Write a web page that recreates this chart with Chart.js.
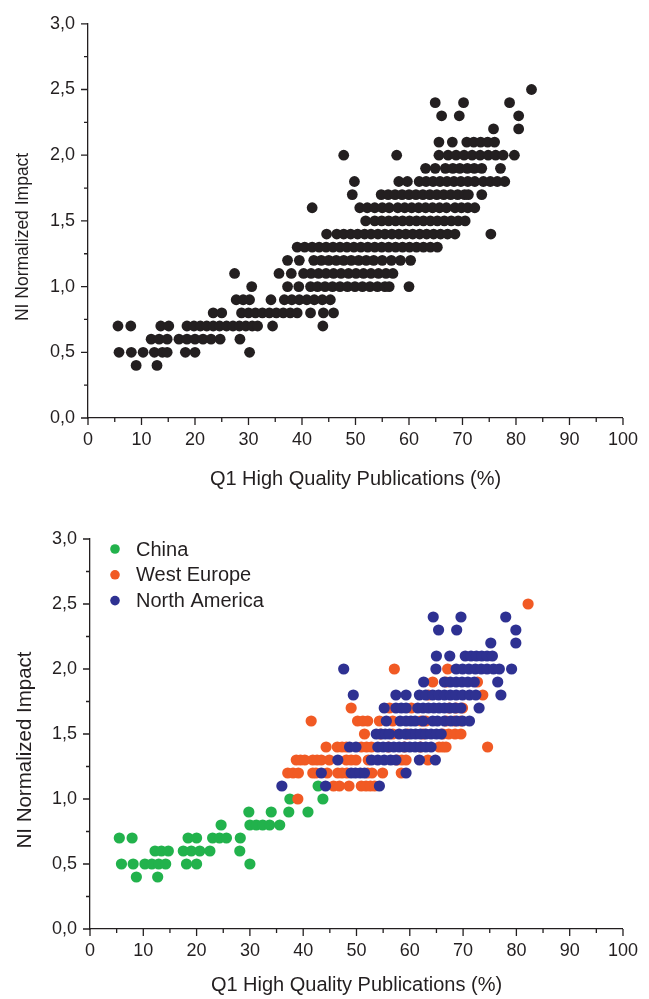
<!DOCTYPE html>
<html><head><meta charset="utf-8">
<script src="https://cdn.jsdelivr.net/npm/chart.js@4.4.1/dist/chart.umd.min.js"></script>
<style>
html,body{margin:0;padding:0;background:#fff;}
#wrap{position:relative;width:649px;height:999px;overflow:hidden;background:#fff;}
.box{position:absolute;left:0;width:649px;}
#b1{top:0;height:495px;}
#b2{top:500px;height:499px;}
</style></head><body>
<div id="wrap">
<div class="box" id="b1"><canvas id="c1" width="649" height="495"></canvas></div>
<div class="box" id="b2"><canvas id="c2" width="649" height="499"></canvas></div>
</div>
<script>
// ---------- DATA ----------
const xTickValues = [0,10,20,30,40,50,60,70,80,90,100];
const yTickValues = [0,0.5,1.0,1.5,2.0,2.5,3.0];
const xTitle = 'Q1 High Quality Publications (%)';
const yTitle = 'NI Normalized Impact';
const regionNames = ['China','West Europe','North America'];

// Top panel: all institutions, grouped by NI level
const allNI = [0.4,0.5,0.6,0.7,0.8,0.9,1.0,1.1,1.2,1.3,1.4,1.5,1.6,1.7,1.8,1.9,2.0,2.1,2.2,2.3,2.4,2.5];
const allQ1 = [
  [9.0,12.9],
  [5.8,8.1,10.3,12.4,13.9,14.8,18.2,20.0,30.2],
  [11.8,13.3,14.8,17.0,18.5,20.0,21.5,23.0,24.7,28.4],
  [5.6,8.0,13.6,15.1,18.5,19.8,21.0,22.2,23.4,24.6,25.9,27.1,28.3,29.5,30.7,31.7,34.5,43.9],
  [23.4,25.0,28.7,30.0,31.3,32.6,33.9,35.2,36.5,37.8,39.1,41.6,44.0,45.9],
  [27.7,29.0,30.2,34.2,36.7,38.1,39.5,40.9,42.3,43.8,45.3],
  [30.6,37.3,39.4,41.6,42.9,44.3,45.7,47.1,48.5,49.9,51.3,52.7,54.1,55.5,56.3,60.0],
  [27.4,35.7,38.0,40.3,41.7,43.1,44.5,45.9,47.3,48.7,50.1,51.5,52.9,54.3,55.7,57.0],
  [37.3,39.5,42.2,43.6,45.0,46.4,47.8,49.2,50.6,52.0,53.4,55.0,56.7,58.4,60.3],
  [39.1,40.5,41.9,43.2,44.5,45.8,47.1,48.4,49.7,51.0,52.3,53.6,54.9,56.2,57.5,58.8,60.1,61.4,62.7,64.0,65.3],
  [44.6,46.5,47.8,49.1,50.4,51.7,52.9,54.2,55.5,56.8,58.1,59.4,60.7,62.0,63.3,64.6,65.9,67.2,68.6,75.3],
  [51.9,53.6,54.9,56.2,57.5,58.8,60.1,61.4,62.7,64.0,65.3,66.6,67.9,69.2,70.5],
  [41.9,50.8,52.2,53.6,55.0,56.3,57.9,59.2,60.5,61.8,63.1,64.4,65.7,67.0,68.6,69.8,71.0,72.3],
  [49.4,54.8,56.1,57.4,58.7,60.0,61.3,62.6,63.9,65.2,66.5,67.8,69.1,70.4,71.1,73.6],
  [49.8,58.1,59.7,61.9,63.2,64.5,65.8,67.1,68.4,69.7,71.0,72.3,73.9,75.2,76.5,77.9],
  [63.1,64.9,66.8,68.2,69.5,70.9,72.2,73.6,77.1],
  [47.8,57.7,65.6,67.3,68.8,70.3,71.8,73.3,74.8,76.2,77.6,79.7],
  [65.6,68.1,70.8,72.1,73.4,74.7,76.0],
  [75.8,80.5],
  [66.1,69.4,80.5],
  [64.9,70.2,78.8],
  [82.9]
];

// Bottom panel: by region
const chinaNI = [0.4,0.5,0.6,0.7,0.8,0.9,1.0,1.1];
const chinaQ1 = [
  [8.7,12.7],
  [5.9,8.1,10.3,11.6,12.9,14.2,18.1,20.0,30.0],
  [12.2,13.4,14.7,17.5,19.0,20.6,22.5,28.1],
  [5.5,7.9,18.4,20.0,23.0,24.3,25.6,28.2],
  [24.6,30.0,31.2,32.4,33.7,35.6],
  [29.8,34.0,37.3,40.9],
  [37.5,43.7],
  [42.8]
];
const europeNI = [1.0,1.1,1.2,1.3,1.4,1.5,1.6,1.7,1.8,1.9,2.0,2.5];
const europeQ1 = [
  [39.0],
  [45.7,46.8,48.6,50.9,51.8,52.6,53.4],
  [37.1,38.1,39.1,41.8,42.4,44.5,46.5,47.3,48.2,52.1,52.9,54.9,58.4],
  [38.7,39.5,40.3,41.8,42.6,43.4,44.9,48.1,49.0,49.9,52.2,57.6,58.5,59.3,63.4],
  [44.3,46.4,47.3,48.1,50.9,51.9,52.8,56.0,59.0,62.0,65.5,66.2,66.8,74.6],
  [51.5,54.5,56.8,59.6,62.5,66.2,67.3,68.5,69.6],
  [41.5,50.2,51.2,52.1,54.3,56.8,62.1,63.0,66.8,68.4,69.6],
  [49.0,56.2,60.3,67.4,68.7,69.9],
  [63.5,73.7],
  [64.3,66.8,72.7],
  [57.1,67.1],
  [82.2]
];
const americaNI = [1.1,1.2,1.3,1.4,1.5,1.6,1.7,1.8,1.9,2.0,2.1,2.2,2.3,2.4];
const americaQ1 = [
  [36.0,44.2,54.3],
  [43.4,49.0,49.8,50.7,51.5,59.3],
  [46.5,52.8,54.0,55.2,56.4,57.4,61.8,64.8],
  [48.7,49.9,54.0,55.0,56.0,57.0,58.0,59.0,60.0,61.0,62.0,63.0,64.0],
  [53.7,54.6,55.4,56.2,58.0,59.2,60.2,61.1,62.0,63.0,64.0,65.0,65.9],
  [55.6,58.2,59.3,60.2,61.0,62.5,64.3,65.2,66.5,67.7,68.8,69.9,71.2],
  [55.2,57.4,58.4,59.3,61.5,62.5,63.5,64.5,65.5,66.5,67.5,68.5,69.6,73.0],
  [49.4,57.4,59.3,61.8,63.0,64.3,65.4,66.5,67.6,68.7,69.9,71.2,72.4,77.1],
  [62.6,66.5,67.6,68.7,69.8,70.9,72.1,76.5],
  [47.6,64.9,68.7,69.9,71.1,72.3,73.4,74.5,75.7,76.8,79.1],
  [65.0,67.5,70.4,71.5,72.5,73.5,74.5,75.5],
  [75.2,79.9],
  [65.4,68.8,79.9],
  [64.4,69.6,78.0]
];

// ---------- STYLE ----------
const INK = '#231f20';
const FONT = '"Liberation Sans", Arial, Helvetica, sans-serif';
const COLORS = {china:'#22b24c', europe:'#f15a24', america:'#2e3192', all:'#231f20'};

function toPoints(levels, q1) {
  const pts = [];
  levels.forEach((ni, i) => q1[i].forEach(x => pts.push({x: x, y: ni})));
  return pts;
}

const axisTicksPlugin = {
  id: 'axisTicks',
  afterDraw(chart) {
    const {ctx, chartArea, scales} = chart;
    const x = scales.x, y = scales.y;
    ctx.save();
    ctx.strokeStyle = INK;
    ctx.lineWidth = 1.3;
    ctx.beginPath();
    for (let k = 0; k <= 20; k++) {
      const v = k * 5;
      const px = x.getPixelForValue(v);
      const len = (k % 2 === 0) ? 7 : 4;
      ctx.moveTo(px, chartArea.bottom);
      ctx.lineTo(px, chartArea.bottom + len);
    }
    for (let k = 0; k <= 12; k++) {
      const v = k * 0.25;
      const py = y.getPixelForValue(v);
      const len = (k % 2 === 0) ? 7 : 4;
      ctx.moveTo(chartArea.left, py);
      ctx.lineTo(chartArea.left - len, py);
    }
    ctx.stroke();
    // y axis title
    const o = chart.options.plugins.yTitleOpts;
    ctx.fillStyle = INK;
    ctx.font = o.size + 'px ' + FONT;
    ctx.textAlign = 'center';
    ctx.textBaseline = 'middle';
    ctx.translate(o.x, (chartArea.top + chartArea.bottom) / 2 + o.dy);
    ctx.rotate(-Math.PI / 2);
    ctx.fillText(yTitle, 0, 0);
    ctx.restore();
  }
};

const legendPlugin = {
  id: 'insideLegend',
  afterDraw(chart) {
    const o = chart.options.plugins.insideLegend;
    if (!o || !o.show) return;
    const {ctx, chartArea} = chart;
    ctx.save();
    ctx.font = '20px ' + FONT;
    ctx.textBaseline = 'middle';
    ctx.textAlign = 'left';
    const order = [2, 1, 0]; // datasets drawn NA, Europe, China -> legend China first
    order.forEach((di, row) => {
      const ds = chart.data.datasets[di];
      const yy = chartArea.top + 10 + row * 25.8;
      ctx.fillStyle = ds.backgroundColor;
      ctx.beginPath();
      ctx.arc(chartArea.left + 25, yy, 4.8, 0, Math.PI * 2);
      ctx.fill();
      ctx.fillStyle = INK;
      ctx.fillText(ds.label, chartArea.left + 46, yy + 1);
    });
    ctx.restore();
  }
};

function makeOptions(pad, yWidth, xHeight, titleX, titleDy, titleSize, xTitlePadBottom, legend, radius) {
  return {
    responsive: false,
    animation: false,
    devicePixelRatio: 1,
    layout: {padding: pad},
    plugins: {
      legend: {display: false},
      tooltip: {enabled: false},
      yTitleOpts: {x: titleX, dy: titleDy, size: titleSize},
      insideLegend: {show: legend}
    },
    elements: {point: {radius: radius, borderWidth: 0, hoverRadius: radius}},
    scales: {
      x: {
        type: 'linear', min: 0, max: 100,
        afterBuildTicks: s => { s.ticks = xTickValues.map(v => ({value: v})); },
        afterFit: s => { s.height = xHeight; },
        grid: {display: true, drawOnChartArea: false, drawTicks: false},
        border: {display: true, color: INK, width: 1.3},
        ticks: {color: INK, font: {family: FONT, size: 18}, padding: 11, maxRotation: 0, autoSkip: false,
                callback: v => String(v)},
        title: {display: true, text: xTitle, color: INK, font: {family: FONT, size: 20},
                padding: {top: 0, bottom: xTitlePadBottom}}
      },
      y: {
        type: 'linear', min: 0, max: 3,
        afterBuildTicks: s => { s.ticks = yTickValues.map(v => ({value: v})); },
        afterFit: s => { s.width = yWidth; },
        grid: {display: true, drawOnChartArea: false, drawTicks: false},
        border: {display: true, color: INK, width: 1.3},
        ticks: {color: INK, font: {family: FONT, size: 18}, padding: 13, autoSkip: false,
                callback: v => Number(v).toFixed(1).replace('.', ',')},
        title: {display: false}
      }
    }
  };
}

new Chart(document.getElementById('c1'), {
  type: 'scatter',
  data: {datasets: [{label: 'All', data: toPoints(allNI, allQ1), backgroundColor: COLORS.all, borderColor: COLORS.all}]},
  options: makeOptions({left: 0, top: 18, right: 19, bottom: 0}, 88, 77, 23, 16, 17.5, 4, false, 5.4),
  plugins: [axisTicksPlugin]
});

new Chart(document.getElementById('c2'), {
  type: 'scatter',
  data: {datasets: [
    {label: regionNames[2], data: toPoints(americaNI, americaQ1), backgroundColor: COLORS.america, borderColor: COLORS.america},
    {label: regionNames[1], data: toPoints(europeNI, europeQ1), backgroundColor: COLORS.europe, borderColor: COLORS.europe},
    {label: regionNames[0], data: toPoints(chinaNI, chinaQ1), backgroundColor: COLORS.china, borderColor: COLORS.china}
  ]},
  options: makeOptions({left: 0, top: 39, right: 25, bottom: 0}, 90, 70, 25, 16, 20.5, 2, true, 5.6),
  plugins: [axisTicksPlugin, legendPlugin]
});
</script>
</body></html>
